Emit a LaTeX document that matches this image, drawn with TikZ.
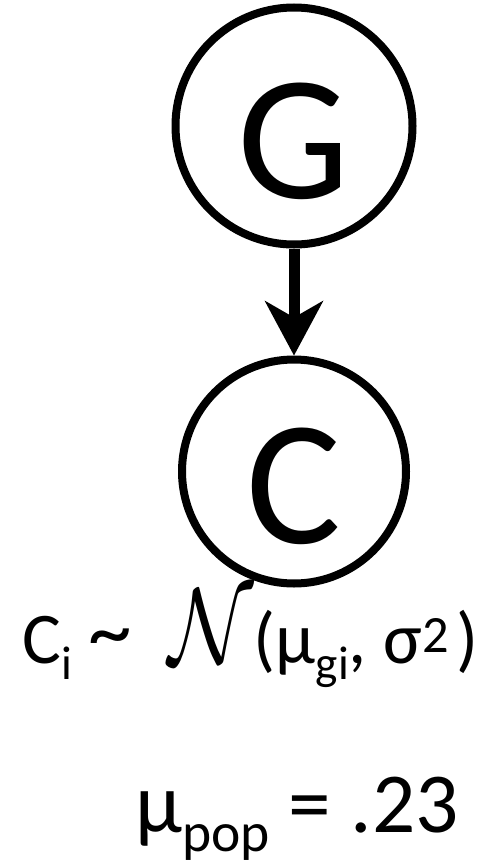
\documentclass[tikz,border=0pt]{standalone}
\usepackage{fontspec}
\setmainfont{Carlito}
\usepackage{graphicx}
\usetikzlibrary{arrows.meta, positioning}
\newcommand{\lowtext}[1]{\raisebox{-0.23em}{\scalebox{0.65}{#1}}}
\newcommand{\hightext}[1]{\raisebox{0.15em}{\scalebox{0.72}{#1}}}
\newcommand{\normdist}{{\normalsize\scalebox{4.4}[5.4]{$\mathcal{N}$}}}
\newcommand{\distsim}{\raisebox{0.04em}{\scalebox{1.2}{\textasciitilde}}}
\tikzset{
  latent/.style = {
    circle, draw=black, line width=4pt, inner sep=0pt,
    font=\fontsize{89pt}{90pt}\selectfont,
    text height=72pt, text depth=0pt
  },
  bigarrow/.style = {
    -{Stealth[length=27.5pt, width=29.5pt, inset=8.5pt, line width=0pt]},
    line width=5.5pt
  },
  eqn/.style = {anchor=base, inner sep=0pt}
}
\begin{document}
\begin{tikzpicture}[x=0.5pt, y=-0.5pt]
  \useasboundingbox (0,0) rectangle (498,862);

  % Variables
  \node[latent, minimum size=118.5pt] (G) at (294,126) {G};
  \node[latent, minimum size=112pt, below=53.5pt of G] (C) {C};

  % Dependency
  \draw[bigarrow] (G) -- (C);

  % Distributions
  \node[eqn, anchor=base west, font=\fontsize{36.4pt}{40pt}\selectfont] (lik) at (22,663)
    {C\lowtext{i} \distsim\hspace{0.5em}\normdist(μ\lowtext{gi}, σ\hightext{2}\hspace{0.1em})};
  \node[eqn, font=\fontsize{42.7pt}{48pt}\selectfont] (pop) at (297,832)
    {μ\lowtext{pop} = .23};
\end{tikzpicture}
\end{document}
